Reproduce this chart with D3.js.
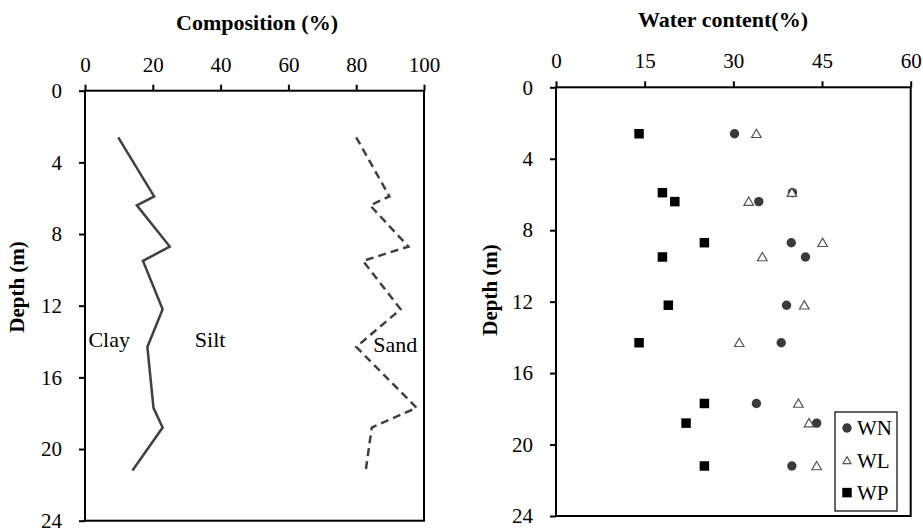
<!DOCTYPE html>
<html>
<head>
<meta charset="utf-8">
<script src="https://cdn.jsdelivr.net/npm/d3@7"></script>
<style>
body { margin: 0; background: #fff; }
text { font-family: "Times New Roman", "Liberation Serif", serif; fill: #000; }
</style>
</head>
<body>
<div id="chart"></div>
<script>
// sample depths (m), shared by both panels
var depths = [2.6, 5.9, 6.4, 8.7, 9.5, 12.2, 14.3, 17.7, 18.8, 21.2];
// composition: clay boundary and clay+silt boundary (%)
var clay = [9.8, 20.4, 15.3, 25.0, 17.1, 22.9, 18.4, 20.2, 22.9, 14.0];
var claySilt = [80.0, 89.8, 84.1, 95.4, 82.0, 93.1, 80.0, 97.8, 84.6, 82.8];
// water contents (%)
var wn = [30.2, 40.0, 34.3, 39.8, 42.2, 39.0, 38.1, 33.9, 44.1, 39.9];
var wl = [33.9, 39.9, 32.6, 45.1, 34.9, 42.0, 31.0, 41.0, 42.8, 44.1];
var wp = [14.05, 18.0, 20.1, 25.1, 18.0, 19.0, 14.05, 25.1, 22.0, 25.1];

var compTicks = [0, 20, 40, 60, 80, 100];
var waterTicks = [0, 15, 30, 45, 60];
var depthTicks = [0, 4, 8, 12, 16, 20, 24];
var legendNames = ["WN", "WL", "WP"];

var svg = d3.select("#chart").append("svg")
    .attr("width", 923)
    .attr("height", 532);

function panel(x0, x1, y0, y1, xDomain, xTicks, title, titleX, titleY, labelX, labelY) {
    var x = d3.scaleLinear().domain(xDomain).range([x0, x1]);
    var y = d3.scaleLinear().domain([0, 24]).range([y0, y1]);

    var gx = svg.append("g")
        .attr("transform", "translate(0," + y0 + ")")
        .call(d3.axisTop(x).tickValues(xTicks).tickSize(6).tickSizeOuter(0).tickPadding(13));
    var gy = svg.append("g")
        .attr("transform", "translate(" + x0 + ",0)")
        .call(d3.axisLeft(y).tickValues(depthTicks).tickSize(6).tickSizeOuter(0).tickPadding(17));

    [gx, gy].forEach(function(g) {
        g.select(".domain").remove();
        g.selectAll("line").attr("stroke", "#000").attr("stroke-width", 2);
        g.selectAll("text")
            .attr("fill", "#000")
            .style("font-family", "'Times New Roman', 'Liberation Serif', serif")
            .style("font-size", "21px");
    });

    svg.append("rect")
        .attr("x", x0).attr("y", y0)
        .attr("width", x1 - x0).attr("height", y1 - y0)
        .attr("fill", "none")
        .attr("stroke", "#000")
        .attr("stroke-width", 2);

    svg.append("text")
        .attr("x", titleX).attr("y", titleY)
        .attr("text-anchor", "middle")
        .style("font-size", "22px")
        .style("font-weight", "bold")
        .text(title);

    svg.append("text")
        .attr("transform", "translate(" + labelX + "," + labelY + ") rotate(-90)")
        .attr("text-anchor", "middle")
        .attr("dy", "0.35em")
        .style("font-size", "21px")
        .style("font-weight", "bold")
        .text("Depth (m)");

    return { x: x, y: y };
}

// ---- left panel: composition ----
var L = panel(85, 424, 90.7, 520.7, [0, 100], compTicks, "Composition (%)", 257, 30, 17, 287);

var line = d3.line()
    .x(function(d) { return L.x(d[0]); })
    .y(function(d) { return L.y(d[1]); });

svg.append("path")
    .datum(d3.zip(clay, depths))
    .attr("d", line)
    .attr("fill", "none")
    .attr("stroke", "#404040")
    .attr("stroke-width", 2.5);

svg.append("path")
    .datum(d3.zip(claySilt, depths))
    .attr("d", line)
    .attr("fill", "none")
    .attr("stroke", "#404040")
    .attr("stroke-width", 2.5)
    .attr("stroke-dasharray", "8,5");

[["Clay", 1, 14.3], ["Silt", 32.4, 14.3], ["Sand", 85, 14.6]].forEach(function(t) {
    svg.append("text")
        .attr("x", L.x(t[1]))
        .attr("y", L.y(t[2]))
        .style("font-size", "22px")
        .text(t[0]);
});

// ---- right panel: water content ----
var R = panel(556, 910.7, 87.3, 516, [0, 60], waterTicks, "Water content(%)", 723, 27, 490, 290);

var sq = 9.5;
svg.append("g").selectAll("rect")
    .data(d3.zip(wp, depths))
    .enter().append("rect")
    .attr("x", function(d) { return R.x(d[0]) - sq / 2; })
    .attr("y", function(d) { return R.y(d[1]) - sq / 2; })
    .attr("width", sq).attr("height", sq)
    .attr("fill", "#000");

svg.append("g").selectAll("circle")
    .data(d3.zip(wn, depths))
    .enter().append("circle")
    .attr("cx", function(d) { return R.x(d[0]); })
    .attr("cy", function(d) { return R.y(d[1]); })
    .attr("r", 4.7)
    .attr("fill", "#3a3a3a");

var tri = d3.symbol().type(d3.symbolTriangle).size(40);
svg.append("g").selectAll("path")
    .data(d3.zip(wl, depths))
    .enter().append("path")
    .attr("d", tri)
    .attr("transform", function(d) { return "translate(" + R.x(d[0]) + "," + (R.y(d[1]) + 1) + ")"; })
    .attr("fill", "#fff")
    .attr("stroke", "#555")
    .attr("stroke-width", 1.2);

// legend
var lg = svg.append("g").attr("transform", "translate(835,412)");
lg.append("rect")
    .attr("width", 62).attr("height", 99)
    .attr("fill", "#fff")
    .attr("stroke", "#000")
    .attr("stroke-width", 1.2);

legendNames.forEach(function(name, i) {
    var cy = 16 + i * 32.3;
    if (i === 0) {
        lg.append("circle").attr("cx", 12).attr("cy", cy).attr("r", 4.7).attr("fill", "#3a3a3a");
    } else if (i === 1) {
        lg.append("path").attr("d", d3.symbol().type(d3.symbolTriangle).size(28))
            .attr("transform", "translate(12," + (cy + 1) + ")")
            .attr("fill", "#fff").attr("stroke", "#555").attr("stroke-width", 1.2);
    } else {
        lg.append("rect").attr("x", 12 - sq / 2).attr("y", cy - sq / 2)
            .attr("width", sq).attr("height", sq).attr("fill", "#000");
    }
    lg.append("text")
        .attr("x", 22).attr("y", cy)
        .attr("dy", "0.35em")
        .style("font-size", "21px")
        .text(name);
});
</script>
</body>
</html>
